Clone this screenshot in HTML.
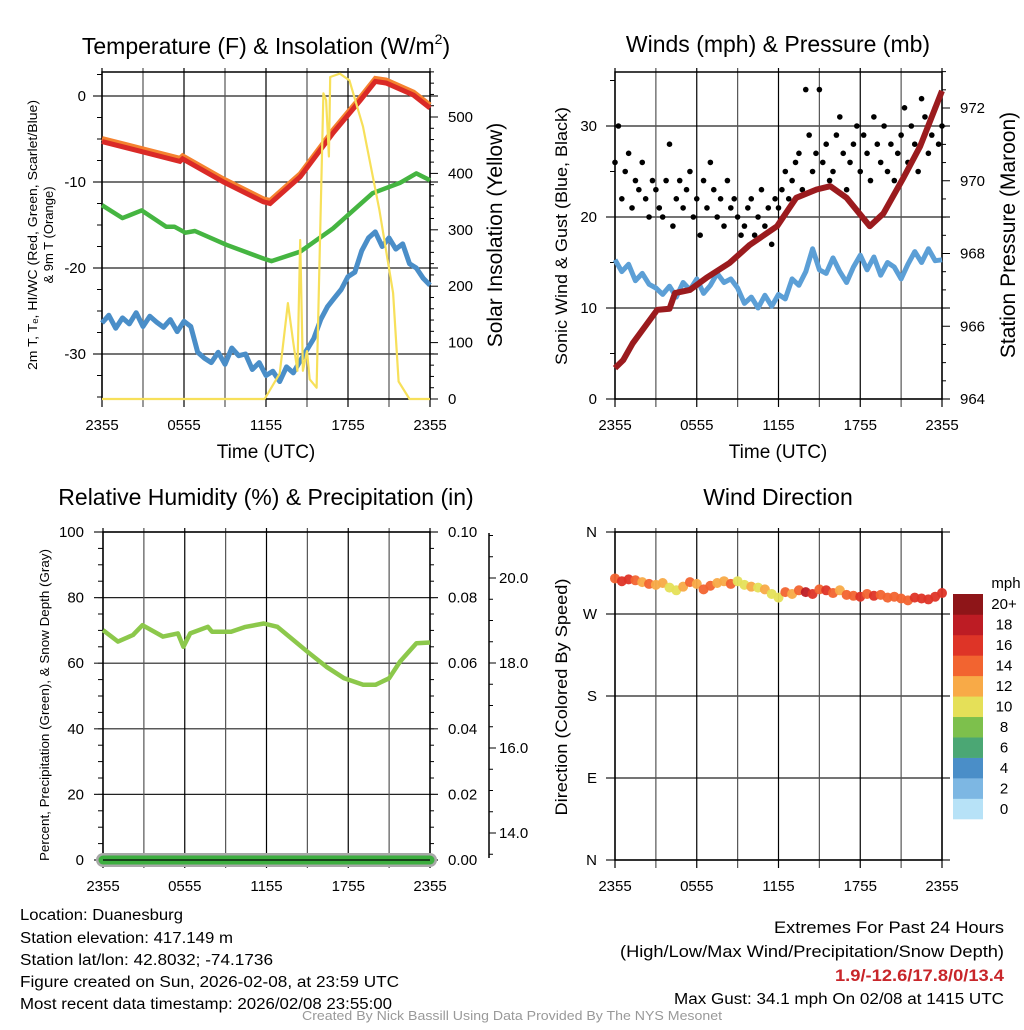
<!DOCTYPE html>
<html><head><meta charset="utf-8"><style>
html,body{margin:0;padding:0;background:#fff;}
svg{display:block;font-family:"Liberation Sans",sans-serif;}
</style></head><body>
<svg id="s" width="1024" height="1024" viewBox="0 0 1024 1024">
<g id="content"></g>
</svg>
<script>
// ---------- data ----------
const tempT = [0,3.0,5.7,5.9,8.9,11.8,12.3,14.5,16.9,18.9,20,20.8,22.8,24];
const tempV = [-5.3,-6.5,-7.6,-7.3,-10,-12.3,-12.5,-9.4,-4.3,-0.5,1.7,1.5,0.1,-1.4];
const dewT = [0,1.5,2.9,4.7,5.3,6.1,6.8,9.1,11.8,12.4,14.5,16.9,19.8,21.8,23,24];
const dewV = [-12.7,-14.2,-13.3,-15.2,-15.2,-15.9,-15.7,-17.3,-18.9,-19.2,-18.1,-15.4,-11.3,-10.1,-9,-9.8];
const wcV = [-26.4,-25.5,-27,-25.8,-26.5,-25.2,-26.8,-25.6,-26.3,-26.9,-26.0,-27.4,-26.2,-26.8,-29.8,-30.5,-31.0,-29.8,-31.2,-29.3,-30.2,-30.0,-31.8,-31.0,-32.5,-32.0,-33.2,-31.5,-32.2,-30.8,-29.5,-28.2,-26.0,-24.5,-23.5,-22.5,-21.0,-20.5,-18.0,-16.5,-15.8,-17.5,-16.5,-17.8,-17.2,-19.5,-20.0,-21.2,-22.0];
const solT = [0,11.9,13.0,13.6,14.0,14.3,14.5,14.7,15.0,15.2,15.7,16.2,16.4,16.6,16.7,17.4,18.1,19.1,20.3,21.3,21.7,22.5,24];
const solV = [0,0,45,170,100,50,282,50,85,35,20,542,530,430,571,577,565,483,335,188,31,0,0];
const presT = [0,0.6,1.3,3.1,4.0,4.4,5.5,6.7,8.4,9.9,11.9,13.3,14.8,15.8,17,18.7,19.7,21.2,22.4,24];
const presV = [964.85,965.07,965.53,966.45,966.48,966.91,967.0,967.33,967.74,968.24,968.75,969.53,969.76,969.85,969.53,968.75,969.1,970.1,970.95,972.47];
const windV = [15.3,14.0,14.8,13.0,13.8,12.6,12.2,11.5,12.4,11.2,12.8,12.0,13.2,11.6,12.5,13.8,12.8,13.2,12.2,10.5,11.2,10.0,11.4,10.2,11.5,11.0,13.2,12.5,14.0,16.5,14.2,13.8,15.5,14.0,12.8,14.5,15.8,14.2,15.6,13.6,15.0,14.5,13.2,14.8,16.2,15.0,16.5,15.2,15.3];
const gustV = [26,30,22,25,27,21,24,23,26,22,20,24, 23,21,20,24,28,19,22,24,21,23,25,20, 22,18,24,21,26,23,20,22,19,24,21,22, 20,18,19,21,22,18,20,23,19,21,17,22, 21,23,25,22,24,26,27,23,34,29,25,27, 34,26,28,24,25,29,31,27,23,26,28,30, 25,29,27,24,31,28,26,30,25,28,24,27, 29,32,26,30,28,25,33,31,27,29,32,28,30];
const rhT = [0,1.1,2.2,2.9,4.4,5.5,5.9,6.4,7.7,8.0,9.4,10.4,11.8,12.8,15,16.4,17.7,19.1,20,21,21.8,23,24];
const rhV = [70.1,66.6,68.6,71.6,68.1,69.1,65,69.1,71.1,69.6,69.6,71,72.1,71.1,63.5,58.9,55.4,53.4,53.4,55.4,60.5,66.1,66.3];
const dirV = [309,306,308,307,305,303,302,304,299,296,300,305,303,297,301,304,306,303,306,302,300,299,297,292,288,294,292,296,294,292,297,296,293,296,291,290,289,292,290,291,288,289,287,285,288,287,286,289,293];
const spdV = [15,17,16,15,13,14,13,12,11,10,12,14,12,15,14,13,12,14,10,11,12,10,12,10,11,14,13,15,18,16,15,16,14,12,15,14,16,15,16,14,15,14,15,14,16,17,16,17,16];
const timeLabels = ["2355","0555","1155","1755","2355"];
const tempTicks = [0,-10,-20,-30];
const solTicks = [0,100,200,300,400,500];
const windTicks = [0,10,20,30];
const presTicks = [964,966,968,970,972];
const rhTicks = [0,20,40,60,80,100];
const prTicks = ["0.00","0.02","0.04","0.06","0.08","0.10"];
const snowTicks = [14,16,18,20];
const dirLabels = ["N","E","S","W","N"];
const cbLabels = ["0","2","4","6","8","10","12","14","16","18","20+"];
const cbColors = ["#B7E2F7","#7DB7E3","#4A8EC8","#4BA774","#7DC04C","#E5E058","#F8AA47","#F26430","#DE3427","#BD1C24","#8E1518"];

// ---------- helpers ----------
const NS="http://www.w3.org/2000/svg";
const root=document.getElementById('content');
function mk(tag,attrs,parent){const e=document.createElementNS(NS,tag);for(const k in attrs)e.setAttribute(k,attrs[k]);(parent||root).appendChild(e);return e;}
function txt(str,attrs,parent){const e=mk('text',attrs,parent);e.textContent=str;return e;}
function lin(d0,d1,r0,r1){return v=>r0+(v-d0)*(r1-r0)/(d1-d0);}
function pathFrom(ts,vs,xf,yf){return ts.map((t,i)=>(i?'L':'M')+xf(t).toFixed(1)+','+yf(vs[i]).toFixed(1)).join(' ');}
const half=i=>i*0.5;

function frame(x0,x1,y0,y1,g){
  for(let i=0;i<=8;i++){
    const x=x0+(x1-x0)*i/8;
    const l=mk('line',{x1:x,x2:x,y1:y0-4,y2:y1+8,stroke:i%2?'#555':'#000','stroke-width':1.2},g);
    
    
  }
  for(let i=0;i<5;i++){
    const t=txt(timeLabels[i],{x:x0+(x1-x0)*i/4,y:y1+31,'font-size':15,'text-anchor':'middle'},g);
    
    
  }
  const b=mk('rect',{x:x0,y:y0,width:x1-x0,height:y1-y0,fill:'none',stroke:'#000','stroke-width':1.5},g);
  
  
}
function hgrid(y,x0,x1,g){const l=mk('line',{x1:x0-9,x2:x1+8,y1:y,y2:y,stroke:'#222','stroke-width':1.2},g);
  
  }
function panelTitle(s,x,y,g){const t=txt(s,{x:x,y:y,'font-size':23,'text-anchor':'middle'},g);
  
  return t;}
function rotLabel(s,x,y,size,g,name,len){const a={x:0,y:0,'font-size':size,'text-anchor':'middle',transform:`translate(${x},${y}) rotate(-90)`};
  if(len){a.textLength=len;a.lengthAdjust='spacingAndGlyphs';}
  const t=txt(s,a,g);
  
  return t;}

// ================= Panel 1 =================
(function(){
  const g=mk('g',{});
  
  
  const X0=102,X1=430,Y0=72,Y1=399;
  const x=lin(0,24,X0,X1), y=lin(0,-10,96,182), ys=lin(0,500,399,117);
  for(let v=0;v<=580;v+=20){const yy=ys(v);const l=mk('line',{x1:X1,x2:X1+(v%100?4:8),y1:yy,y2:yy,stroke:'#000'},g);
    
    }
  for(let v=-35;v<=3;v+=2.5){const l=mk('line',{x1:X0-5,x2:X0,y1:y(v),y2:y(v),stroke:'#000'},g);
    
    }
  tempTicks.forEach(v=>{hgrid(y(v),X0,X1,g);const t=txt(String(v),{x:86,y:y(v)+5,'font-size':15,'text-anchor':'end'},g);
    
    });
  solTicks.forEach(v=>{const t=txt(String(v),{x:448,y:ys(v)+5,'font-size':15},g);
    
    });
  frame(X0,X1,Y0,Y1,g);
  const wc=mk('path',{d:pathFrom(wcV.map((_,i)=>half(i)),wcV,x,y),fill:'none',stroke:'#4A8EC8','stroke-width':5,'stroke-linejoin':'round'},g);
  
  
  const dw=mk('path',{d:pathFrom(dewT,dewV,x,y),fill:'none',stroke:'#45B541','stroke-width':4.5,'stroke-linejoin':'round'},g);
  
  
  const t9=mk('path',{d:pathFrom(tempT,tempV.map(v=>v+0.35),x,y),fill:'none',stroke:'#F5822F','stroke-width':5},g);
  
  
  const t2=mk('path',{d:pathFrom(tempT,tempV,x,y),fill:'none',stroke:'#DA2A27','stroke-width':5},g);
  
  
  const so=mk('path',{d:pathFrom(solT,solV,x,ys),fill:'none',stroke:'#F7E05A','stroke-width':2.2,'stroke-linejoin':'round'},g);
  
  
  const tt=mk('text',{x:266,y:54,'font-size':23,'text-anchor':'middle'},g);
  
  
  tt.appendChild(document.createTextNode('Temperature (F) & Insolation (W/m'));
  const sup=mk('tspan',{'font-size':14,dy:-10},tt);
  sup.textContent='2';
  const cp=mk('tspan',{dy:10},tt);
  cp.textContent=')';
  const xl=txt('Time (UTC)',{x:266,y:458,'font-size':19,'text-anchor':'middle'},g);
  
  
  rotLabel('2m T, T\u2091, HI/WC (Red, Green, Scarlet/Blue)',37,235,13,g,'y-axis-title',270);
  rotLabel('& 9m T (Orange)',53,235,13,g,'y-axis-title-line2');
  rotLabel('Solar Insolation (Yellow)',502,235,21,g,'y2-axis-title');
})();

// ================= Panel 2 =================
(function(){
  const g=mk('g',{});
  
  
  const X0=615,X1=942,Y0=72,Y1=399;
  const x=lin(0,24,X0,X1), y=lin(0,30,399,126), yp=lin(964,972,399,108);
  for(let v=964;v<=973;v+=0.5){const l=mk('line',{x1:X1,x2:X1+(v%2?4:8),y1:yp(v),y2:yp(v),stroke:'#000'},g);
    
    }
  for(let v=0;v<=35;v+=5){const l=mk('line',{x1:X0-5,x2:X0,y1:y(v),y2:y(v),stroke:'#000'},g);
    
    }
  windTicks.forEach(v=>{hgrid(y(v),X0,X1,g);const t=txt(String(v),{x:597,y:y(v)+5,'font-size':15,'text-anchor':'end'},g);
    
    });
  presTicks.forEach(v=>{const t=txt(String(v),{x:960,y:yp(v)+5,'font-size':15},g);
    
    });
  frame(X0,X1,Y0,Y1,g);
  const w=mk('path',{d:pathFrom(windV.map((_,i)=>half(i)),windV,x,y),fill:'none',stroke:'#5C9FD6','stroke-width':5,'stroke-linejoin':'round'},g);
  
  
  gustV.forEach((v,i)=>{const c=mk('circle',{cx:x(i*0.25),cy:y(v),r:2.8,fill:'#000'},g);
    
    });
  const p=mk('path',{d:pathFrom(presT,presV,x,yp),fill:'none',stroke:'#9B1B1E','stroke-width':6,'stroke-linejoin':'round'},g);
  
  
  panelTitle('Winds (mph) & Pressure (mb)',778,52,g);
  const xl=txt('Time (UTC)',{x:778,y:458,'font-size':19,'text-anchor':'middle'},g);
  
  
  rotLabel('Sonic Wind & Gust (Blue, Black)',567,236,17,g,'y-axis-title',258);
  rotLabel('Station Pressure (Maroon)',1015,235,21,g,'y2-axis-title');
})();

// ================= Panel 3 =================
(function(){
  const g=mk('g',{});
  
  
  const X0=103,X1=430,Y0=532,Y1=860;
  const x=lin(0,24,X0,X1), y=lin(0,100,860,532), ysn=lin(14,20,833,578);
  for(let v=0;v<=100;v+=5){const l=mk('line',{x1:X0-5,x2:X0,y1:y(v),y2:y(v),stroke:'#000'},g);
    
    
    const r=mk('line',{x1:X1,x2:X1+4,y1:y(v),y2:y(v),stroke:'#000'},g);
    
    }
  rhTicks.forEach((v,i)=>{hgrid(y(v),X0,X1,g);
    const t=txt(String(v),{x:84,y:y(v)+5,'font-size':15,'text-anchor':'end'},g);
    
    
    const t2=txt(prTicks[i],{x:448,y:y(v)+5,'font-size':15},g);
    
    });
  const ax=mk('line',{x1:489,x2:489,y1:533,y2:858,stroke:'#000','stroke-width':1.5},g);
  
  
  for(let v=13.5;v<=21;v+=0.5){const yy=ysn(v);if(yy<533||yy>859)continue;
    const l=mk('line',{x1:489,x2:489+(v%2?4:7),y1:yy,y2:yy,stroke:'#000'},g);
    
    }
  snowTicks.forEach(v=>{const t=txt(v.toFixed(1),{x:499,y:ysn(v)+5,'font-size':15},g);
    
    });
  frame(X0,X1,Y0,Y1,g);
  const rh=mk('path',{d:pathFrom(rhT,rhV,x,y),fill:'none',stroke:'#8CC84B','stroke-width':4.5,'stroke-linejoin':'round'},g);
  
  
  const sn=mk('line',{x1:x(0),x2:x(24),y1:y(0),y2:y(0),stroke:'#A8A8A8','stroke-width':14,'stroke-linecap':'round'},g);
  
  
  const pr=mk('line',{x1:x(0),x2:x(24),y1:y(0),y2:y(0),stroke:'#3DAE3F','stroke-width':9,'stroke-linecap':'round'},g);
  
  
  const bl=mk('line',{x1:X0,x2:X1,y1:Y1,y2:Y1,stroke:'#000','stroke-width':1.2},g);
  
  
  panelTitle('Relative Humidity (%) & Precipitation (in)',266,505,g);
  rotLabel('Percent, Precipitation (Green), & Snow Depth (Gray)',49,705,13,g,'y-axis-title',312);
})();

// ================= Panel 4 =================
(function(){
  const g=mk('g',{});
  
  
  const X0=615,X1=942,Y0=532,Y1=860;
  const x=lin(0,24,X0,X1), y=lin(0,360,860,532);
  dirLabels.forEach((s,i)=>{const yy=y(i*90);hgrid(yy,X0,X1,g);
    const t=txt(s,{x:597,y:yy+5,'font-size':15,'text-anchor':'end'},g);
    
    });
  frame(X0,X1,Y0,Y1,g);
  function col(s){return cbColors[Math.min(10,Math.max(0,Math.floor(s/2)))];}
  dirV.forEach((d,i)=>{const c=mk('circle',{cx:x(half(i)),cy:y(d),r:5,fill:col(spdV[i]),'fill-opacity':0.95},g);
    
    });
  const cbH=225/11;
  cbColors.forEach((c,i)=>{const r=mk('rect',{x:953,y:819-(i+1)*cbH,width:30,height:cbH+0.3,fill:c},g);
    
    
    const t=txt(cbLabels[i],{x:1004,y:819-(i+0.5)*cbH+5,'font-size':15,'text-anchor':'middle'},g);
    
    });
  const u=txt('mph',{x:1006,y:588,'font-size':15,'text-anchor':'middle'},g);
  
  
  panelTitle('Wind Direction',778,505,g);
  rotLabel('Direction (Colored By Speed)',567,697,17,g,'y-axis-title',237);
})();
</script>
<svg width="1024" height="140" viewBox="0 0 1024 140" style="position:absolute;left:0;top:890px">
<g font-family="Liberation Sans, sans-serif" font-size="15.5">
<text x="20" y="30" textLength="163" lengthAdjust="spacingAndGlyphs">Location: Duanesburg</text>
<text x="20" y="53" textLength="213" lengthAdjust="spacingAndGlyphs">Station elevation: 417.149 m</text>
<text x="20" y="75" textLength="253" lengthAdjust="spacingAndGlyphs">Station lat/lon: 42.8032; -74.1736</text>
<text x="20" y="97" textLength="379" lengthAdjust="spacingAndGlyphs">Figure created on Sun, 2026-02-08, at 23:59 UTC</text>
<text x="20" y="119" textLength="372" lengthAdjust="spacingAndGlyphs">Most recent data timestamp: 2026/02/08 23:55:00</text>
<text x="1004" y="43" text-anchor="end" font-size="17" textLength="230" lengthAdjust="spacingAndGlyphs">Extremes For Past 24 Hours</text>
<text x="1004" y="67" text-anchor="end" font-size="17" textLength="384" lengthAdjust="spacingAndGlyphs">(High/Low/Max Wind/Precipitation/Snow Depth)</text>
<text x="1004" y="91" text-anchor="end" font-size="17" font-weight="bold" fill="#C8262A" textLength="169" lengthAdjust="spacingAndGlyphs">1.9/-12.6/17.8/0/13.4</text>
<text x="1004" y="114" text-anchor="end" textLength="330" lengthAdjust="spacingAndGlyphs">Max Gust: 34.1 mph On 02/08 at 1415 UTC</text>
<text x="512" y="130" text-anchor="middle" font-size="13" fill="#999" textLength="420" lengthAdjust="spacingAndGlyphs">Created By Nick Bassill Using Data Provided By The NYS Mesonet</text>
</g>
</svg>
</body></html>
